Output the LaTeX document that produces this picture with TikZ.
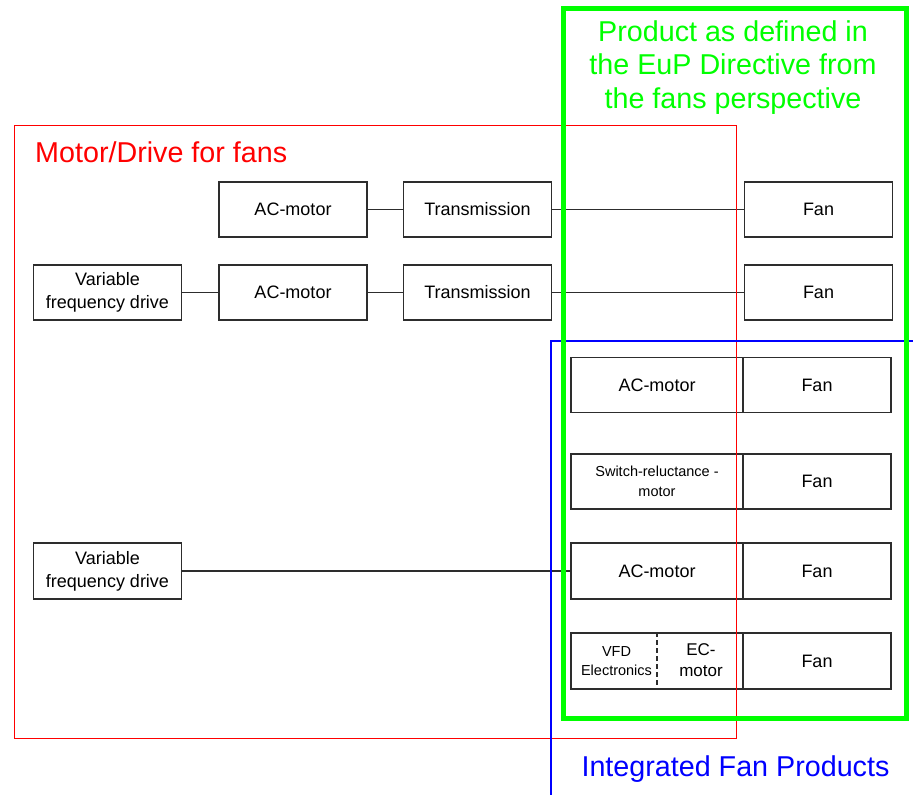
\documentclass[tikz,border=0pt]{standalone}
\usepackage{fontspec}
\setmainfont{Liberation Sans}
\definecolor{regiongreen}{RGB}{0,255,0}
\definecolor{regionblue}{RGB}{0,0,255}
\definecolor{regionred}{RGB}{255,0,0}
\definecolor{boxline}{RGB}{45,45,45}
\begin{document}
\begin{tikzpicture}[x=1pt,y=-1pt,
  blk/.style={draw=boxline,line width=1.1pt,inner sep=0pt,minimum height=55pt,align=center,font=\fontsize{18}{23}\selectfont},
  wbox/.style={blk,minimum width=148pt},
  ibox/.style={blk,minimum width=172pt},
  fbox/.style={blk,minimum width=148pt},
  conn/.style={draw=boxline,line width=1.2pt},
  title/.style={font=\fontsize{28.7}{33.5}\selectfont,align=center,inner sep=0pt}
]
\useasboundingbox (0,0) rectangle (913,795);
% row 1
\node[wbox] (a1) at (293,209.5) {AC-motor};
\node[wbox] (t1) at (477.5,209.5) {Transmission};
\node[fbox] (f1) at (818.5,209.5) {Fan};
% row 2
\node[wbox] (v2) at (107.5,292.5) {Variable\\frequency drive};
\node[wbox] (a2) at (293,292.5) {AC-motor};
\node[wbox] (t2) at (477.5,292.5) {Transmission};
\node[fbox] (f2) at (818.5,292.5) {Fan};
% row 3
\node[ibox] (a3) at (657,385) {AC-motor};
\node[fbox] (f3) at (817,385) {Fan};
% row 4
\node[ibox,font=\fontsize{14.5}{19.5}\selectfont] (s4) at (657,481.5) {Switch-reluctance -\\motor};
\node[fbox] (f4) at (817,481.5) {Fan};
% row 5
\node[wbox,minimum height=56pt] (v5) at (107.5,571) {Variable\\frequency drive};
\node[ibox,minimum height=56pt] (a5) at (657,571) {AC-motor};
\node[fbox,minimum height=56pt] (f5) at (817,571) {Fan};
% row 6
\node[ibox,minimum height=56pt] (e6) at (657,661) {};
\node[fbox,minimum height=56pt] (f6) at (817,661) {Fan};
\node[align=center,inner sep=0pt,font=\fontsize{14.5}{19.5}\selectfont] (vfde) at (616.5,661) {VFD\\Electronics};
\node[align=center,inner sep=0pt,font=\fontsize{17}{21.5}\selectfont] (ecm) at (701,660) {EC-\\motor};
\draw[boxline,line width=1.2pt,dash pattern=on 5pt off 3pt] (e6.north) -- (e6.south);
% connectors
\path[conn] (a1) -- (t1);
\path[conn] (t1) -- (f1);
\path[conn] (v2) -- (a2);
\path[conn] (a2) -- (t2);
\path[conn] (t2) -- (f2);
\path[conn] (v5) -- (a5);
% regions
\draw[draw=regionred,line width=1pt] (14,125) rectangle (736,738);
\draw[draw=regionblue,line width=1.1pt] (551,795) -- (551,341) -- (913,341);
\draw[draw=regiongreen,line width=5pt] (563,8) rectangle (906,718);
% titles
\node[title,text=regionred,anchor=west] (tred) at (35,152) {Motor/Drive for fans};
\node[title,text=regiongreen] (tgreen) at (733,67.5) {Product as defined in\\the EuP Directive from\\the fans perspective};
\node[title,text=regionblue] (tblue) at (735.5,769) {Integrated Fan Products};
\end{tikzpicture}
\end{document}
